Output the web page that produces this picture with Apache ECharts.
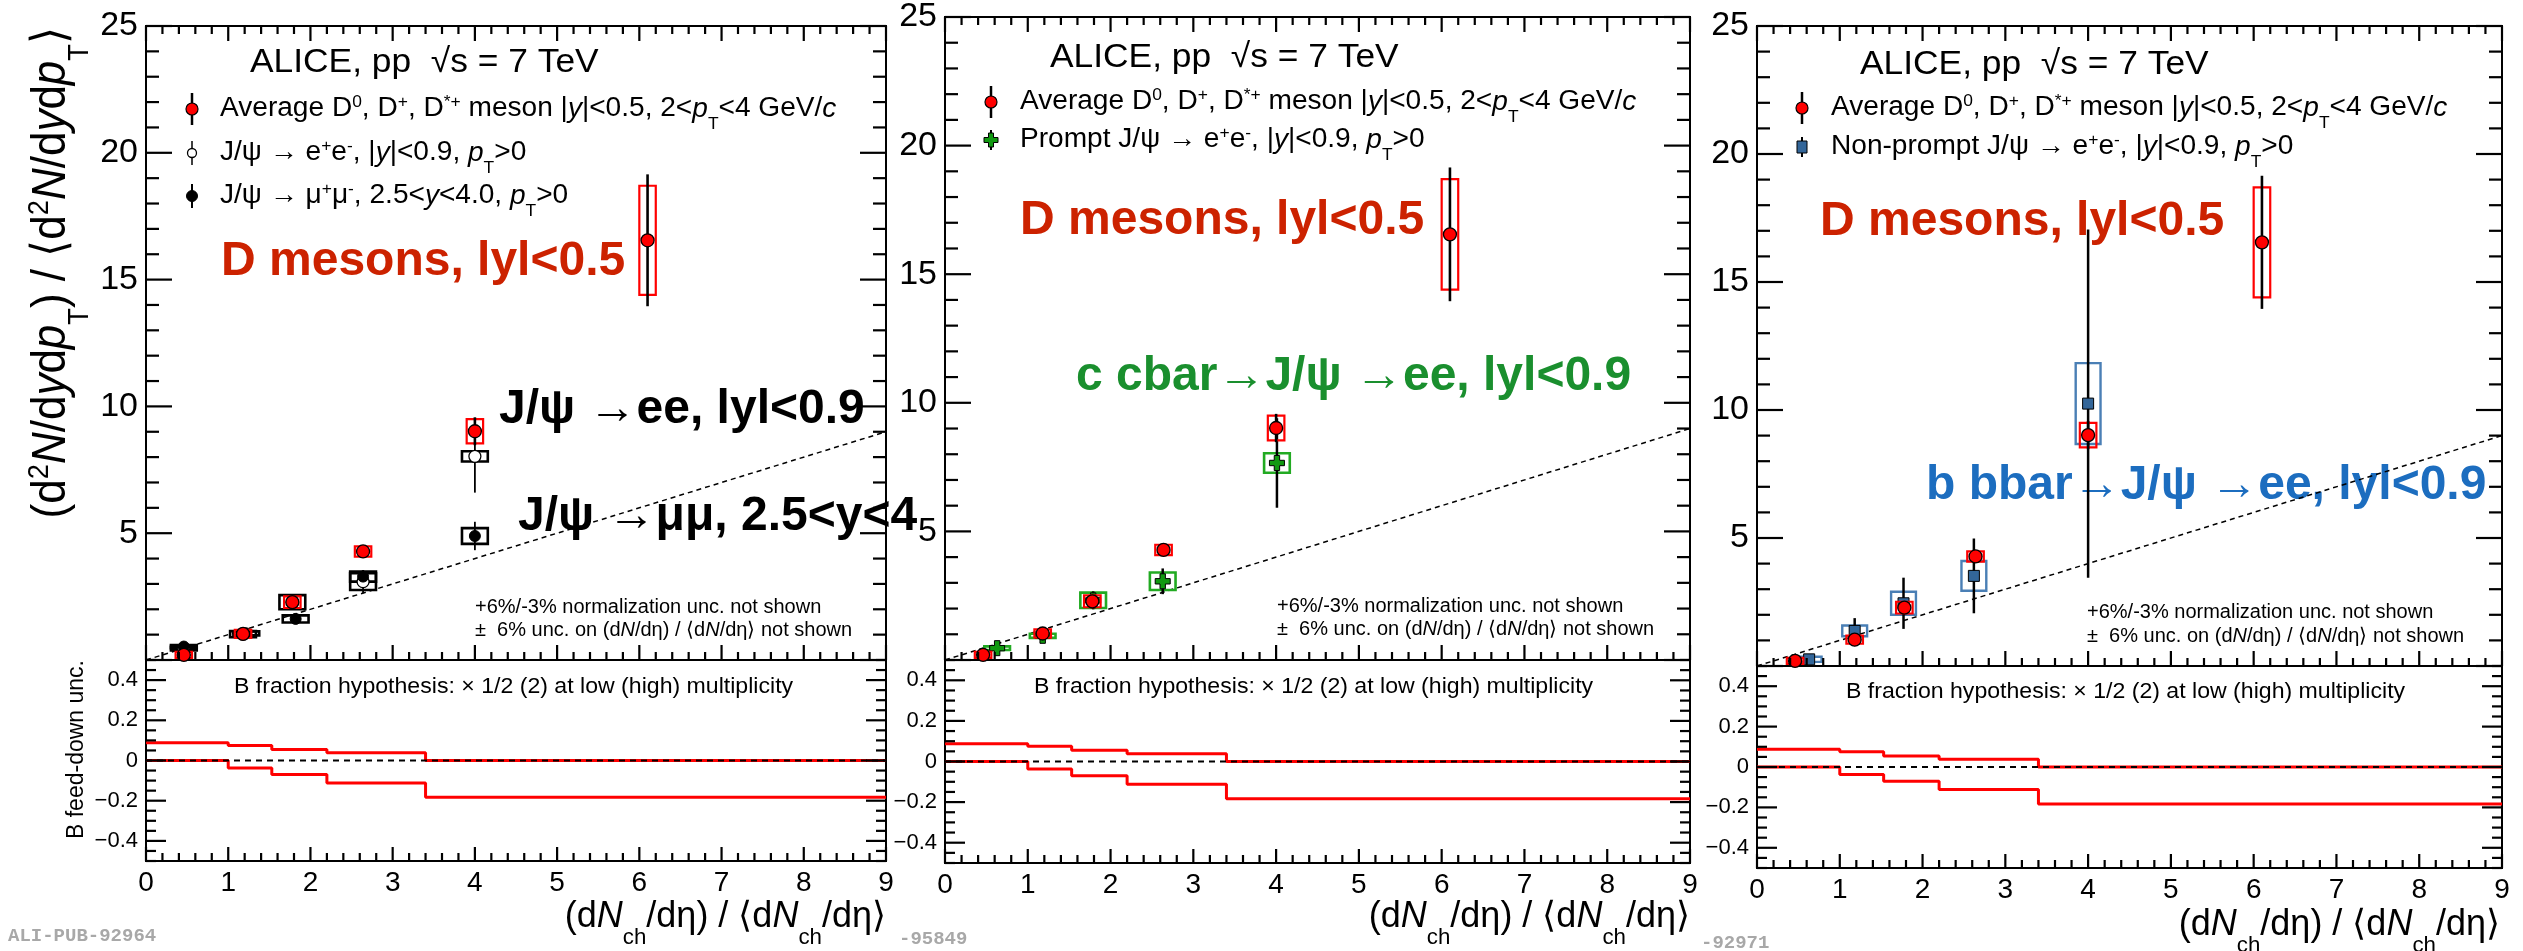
<!DOCTYPE html>
<html><head><meta charset="utf-8">
<script src="https://cdn.jsdelivr.net/npm/echarts@6/dist/echarts.min.js"></script>
<style>html,body{margin:0;padding:0;background:#fff}#c{width:2523px;height:951px}</style>
</head><body><div id="c"></div>
<script>
// ---------------- DATA ----------------
// Average D0, D+, D*+ (|y|<0.5, 2<pT<4 GeV/c)
const xD = [0.46, 1.18, 1.78, 2.64, 4.0, 6.1];
const yD = [0.2, 1.03, 2.28, 4.28, 9.02, 16.55];
const eD = [0.08, 0.1, 0.15, 0.12, 0.55, 2.6];
const sD = [0.12, 0.16, 0.23, 0.2, 0.48, 2.15];
// J/psi -> e+e- inclusive, |y|<0.9 (open circles)
const xEE = [0.46, 1.18, 1.78, 2.64, 4.0];
const yEE = [0.45, 1.02, 2.28, 3.09, 8.03];
const eEE = [0.06, 0.1, 0.2, 0.46, 1.43];
const sEE = [0.07, 0.12, 0.28, 0.33, 0.2];
// J/psi -> mu+mu-, 2.5<y<4 (filled circles)
const xMM = [0.46, 1.22, 1.82, 2.64, 4.0];
const yMM = [0.53, 1.05, 1.62, 3.29, 4.89];
const eMM = [0.05, 0.08, 0.12, 0.2, 0.56];
const sMM = [0.06, 0.08, 0.14, 0.2, 0.31];
// prompt J/psi -> e+e-
const xPr = [0.63, 1.18, 1.79, 2.63, 4.01];
const yPr = [0.46, 0.94, 2.32, 3.06, 7.66];
const ePr = [0.1, 0.25, 0.35, 0.5, 1.74];
const sPr = [0.07, 0.08, 0.3, 0.34, 0.38];
// non-prompt J/psi -> e+e-
const xNp = [0.63, 1.18, 1.77, 2.62, 4.0];
const yNp = [0.26, 1.37, 2.45, 3.52, 10.25];
const eNp = [0.1, 0.5, 1.0, 1.46, 6.8];
const sNp = [0.1, 0.21, 0.45, 0.58, 1.58];
// reference lines
const diag = [[0, 0], [9, 9]];
const zeroLine = [[0, 0], [9, 0]];
// B feed-down uncertainty (bin edges and values)
const bEdges = [0, 1, 1.53, 2.2, 3.4, 9];
const bUp = [0.088, 0.075, 0.055, 0.038, 0];
const bDown = [0, -0.037, -0.07, -0.112, -0.183];
// tick values / labels
const xTicks = [0, 1, 2, 3, 4, 5, 6, 7, 8, 9];
const yTicks = [0, 5, 10, 15, 20, 25];
const ratioTicks = [-0.4, -0.2, 0, 0.2, 0.4];
const range = (a, b, s) => { const r = []; for (let v = a; v <= b + 1e-9; v += s) r.push(Math.round(v * 1000) / 1000); return r; };
const xMinor = range(0, 9, 0.2);
const yMinor = range(0, 25, 1);
const rMinor = range(-0.5, 0.5, 0.05);

// ---------------- HELPERS ----------------
const F = '"Liberation Sans", Arial, Helvetica, sans-serif';
function tex(s) {
  let out = '', buf = '', i = 0;
  const flush = () => { if (buf) { out += '{n|' + buf + '}'; buf = ''; } };
  while (i < s.length) {
    if ((s[i] === '^' || s[i] === '_') && s[i + 1] === '{') {
      flush(); const j = s.indexOf('}', i);
      out += '{' + (s[i] === '^' ? 'sup' : 'sub') + '|' + s.slice(i + 2, j) + '}'; i = j + 1;
    } else if (s[i] === '#' && s[i + 1] === 'i' && s[i + 2] === '{') {
      flush(); const j = s.indexOf('}', i);
      out += '{it|' + s.slice(i + 3, j) + '}'; i = j + 1;
    } else { buf += s[i]; i++; }
  }
  flush();
  return out;
}
function rich(fs, color, weight) {
  const L = 1.2 * fs;
  const base = {fontSize: fs, fontFamily: F, fill: color, color: color, fontWeight: weight || 'normal', lineHeight: L};
  return {
    n: base,
    it: Object.assign({}, base, {fontStyle: 'italic'}),
    sup: Object.assign({}, base, {fontSize: 0.62 * fs, lineHeight: L, padding: [0, 0, 0.5 * fs, 0]}),
    sub: Object.assign({}, base, {fontSize: 0.62 * fs, lineHeight: L, padding: [1.15 * fs, 0, 0, 0]})
  };
}
function T(x, y, s, fs, o) {
  o = o || {};
  return {type: 'text', x: x, y: y, rotation: o.rot || 0, scaleX: o.sx || 1, scaleY: o.sy || 1, z: 1, silent: true,
    style: {text: tex(s), rich: rich(fs, o.color || '#000', o.weight), align: o.align || 'left',
      verticalAlign: 'middle', fill: o.color || '#000', fontSize: fs, fontFamily: F, fontWeight: o.weight || 'normal'}};
}
function mk(kind, x, y) {
  const ln = (h, w) => ({type: 'line', z: 1, silent: true, shape: {x1: x, y1: y - h, x2: x, y2: y + h}, style: {stroke: '#000', lineWidth: w}});
  if (kind === 'red') return [ln(16, 2.5), {type: 'circle', z: 1, shape: {cx: x, cy: y, r: 6}, style: {fill: '#ff0000', stroke: '#000', lineWidth: 1.2}}];
  if (kind === 'open') return [ln(12, 1.5), {type: 'circle', z: 1, shape: {cx: x, cy: y, r: 4.5}, style: {fill: '#fff', stroke: '#000', lineWidth: 1.3}}];
  if (kind === 'black') return [ln(12, 2), {type: 'circle', z: 1, shape: {cx: x, cy: y, r: 5.5}, style: {fill: '#000', stroke: '#000', lineWidth: 1}}];
  if (kind === 'green') return [ln(10, 2), {type: 'polygon', z: 1, shape: {points: [[x-2.5,y-7],[x+2.5,y-7],[x+2.5,y-2.5],[x+7,y-2.5],[x+7,y+2.5],[x+2.5,y+2.5],[x+2.5,y+7],[x-2.5,y+7],[x-2.5,y+2.5],[x-7,y+2.5],[x-7,y-2.5],[x-2.5,y-2.5]]}, style: {fill: '#119911', stroke: '#000', lineWidth: 1}}];
  if (kind === 'blue') return [ln(10, 2), {type: 'rect', z: 1, shape: {x: x - 5, y: y - 6, width: 10, height: 12}, style: {fill: '#336699', stroke: '#000', lineWidth: 1}}];
  return [];
}

const P = [
  {main: {left: 146, top: 26, width: 740, height: 634}, ratio: {left: 146, top: 660, width: 740, height: 201}},
  {main: {left: 945, top: 17, width: 745, height: 643}, ratio: {left: 945, top: 660, width: 745, height: 203}},
  {main: {left: 1757, top: 26, width: 745, height: 640}, ratio: {left: 1757, top: 666, width: 745, height: 202}}
];

const grid = [], xAxis = [], yAxis = [], series = [];
const noLine = {show: false, onZero: false};
P.forEach((p, k) => {
  grid.push(Object.assign({}, p.main, {show: true, borderColor: '#000', borderWidth: 2, backgroundColor: 'transparent', containLabel: false, outerBoundsMode: 'none'}));
  grid.push(Object.assign({}, p.ratio, {show: true, borderColor: '#000', borderWidth: 2, backgroundColor: 'transparent', containLabel: false, outerBoundsMode: 'none'}));
  const xb = {type: 'value', min: 0, max: 9, interval: 1, axisLine: noLine, axisTick: {show: false}, splitLine: {show: false}};
  xAxis.push(Object.assign({}, xb, {gridIndex: 2 * k, position: 'bottom', axisLabel: {show: false}}));
  xAxis.push(Object.assign({}, xb, {gridIndex: 2 * k + 1, position: 'bottom',
    axisLabel: {show: true, fontSize: 28, fontFamily: F, color: '#000', margin: 8, customValues: xTicks, formatter: v => String(v)}}));
  yAxis.push({type: 'value', min: 0, max: 25, interval: 5, axisLine: noLine, axisTick: {show: false}, splitLine: {show: false}, gridIndex: 2 * k, position: 'left',
    axisLabel: {show: true, fontSize: 34, fontFamily: F, color: '#000', margin: 8, customValues: yTicks, formatter: v => v === 0 ? '' : String(v)}});
  const fmt = v => (v < -1e-9 ? '\u2212' : '') + String(Math.round(Math.abs(v) * 10) / 10);
  yAxis.push({type: 'value', min: -0.5, max: 0.5, axisLine: noLine, axisTick: {show: false}, splitLine: {show: false}, gridIndex: 2 * k + 1, position: 'left',
    axisLabel: {show: true, customValues: ratioTicks, fontSize: 22, fontFamily: F, color: '#000', margin: 8, formatter: fmt}});
});

function errS(k, xs, ys, es, color, w, z) {
  return {type: 'custom', xAxisIndex: 2 * k, yAxisIndex: 2 * k, z: z, silent: true,
    data: xs.map((x, i) => [x, ys[i], es[i]]),
    renderItem: (params, api) => {
      const a = api.coord([api.value(0), api.value(1) - api.value(2)]);
      const b = api.coord([api.value(0), api.value(1) + api.value(2)]);
      return {type: 'line', shape: {x1: a[0], y1: a[1], x2: b[0], y2: b[1]}, style: {stroke: color, lineWidth: w}};
    }};
}
function boxS(k, xs, ys, ss, hw, color, w, z) {
  return {type: 'custom', xAxisIndex: 2 * k, yAxisIndex: 2 * k, z: z, silent: true,
    data: xs.map((x, i) => [x, ys[i], ss[i]]),
    renderItem: (params, api) => {
      const a = api.coord([api.value(0) - hw, api.value(1) + api.value(2)]);
      const b = api.coord([api.value(0) + hw, api.value(1) - api.value(2)]);
      return {type: 'rect', shape: {x: a[0], y: a[1], width: b[0] - a[0], height: b[1] - a[1]}, style: {fill: 'none', stroke: color, lineWidth: w}};
    }};
}
function ptS(k, xs, ys, symbol, size, fill, border, bw, z) {
  return {type: 'scatter', xAxisIndex: 2 * k, yAxisIndex: 2 * k, z: z, silent: true, symbol: symbol, symbolSize: size,
    itemStyle: {color: fill, borderColor: border, borderWidth: bw, opacity: 1}, emphasis: {disabled: true},
    data: xs.map((x, i) => [x, ys[i]])};
}
const crossPath = 'path://M3.2,0H6.8V3.2H10V6.8H6.8V10H3.2V6.8H0V3.2H3.2Z';

P.forEach((p, k) => {
  series.push({type: 'line', xAxisIndex: 2 * k, yAxisIndex: 2 * k, data: diag, symbol: 'none', silent: true, z: 2,
    lineStyle: {color: '#000', width: 1.5, type: [5, 4]}});
  if (k === 0) {
    series.push(boxS(k, xEE, yEE, sEE, 0.157, '#000', 2.6, 3));
    series.push(boxS(k, xMM, yMM, sMM, 0.157, '#000', 2.6, 3));
    series.push(errS(k, xEE, yEE, eEE, '#000', 1.8, 4));
    series.push(errS(k, xMM, yMM, eMM, '#000', 1.8, 4));
    series.push(ptS(k, xEE, yEE, 'circle', 12, '#fff', '#000', 1.3, 5));
    series.push(ptS(k, xMM, yMM, 'circle', 11, '#000', '#000', 1, 5));
  } else if (k === 1) {
    series.push(boxS(k, xPr, yPr, sPr, 0.155, '#22aa22', 2.6, 3));
    series.push(errS(k, xPr, yPr, ePr, '#000', 2.5, 4));
    series.push(ptS(k, xPr, yPr, crossPath, 15, '#119911', '#000', 1, 5));
  } else {
    series.push(boxS(k, xNp, yNp, sNp, 0.15, '#4a7fb5', 2.4, 3));
    series.push(errS(k, xNp, yNp, eNp, '#000', 2.5, 4));
    series.push(ptS(k, xNp, yNp, 'rect', 11, '#336699', '#000', 1, 5));
  }
  series.push(boxS(k, xD, yD, sD, 0.1, '#ff0000', 2.2, 6));
  series.push(errS(k, xD, yD, eD, '#000', 2.6, 7));
  series.push(ptS(k, xD, yD, 'circle', 13, '#ff0000', '#000', 1.3, 8));
  // ratio panel
  const stepData = vals => bEdges.map((e, i) => [e, vals[Math.min(i, vals.length - 1)]]);
  series.push({type: 'line', xAxisIndex: 2 * k + 1, yAxisIndex: 2 * k + 1, step: 'end', data: stepData(bUp), symbol: 'none', silent: true, z: 3,
    lineStyle: {color: '#ff0000', width: 3}});
  series.push({type: 'line', xAxisIndex: 2 * k + 1, yAxisIndex: 2 * k + 1, step: 'end', data: stepData(bDown), symbol: 'none', silent: true, z: 3,
    lineStyle: {color: '#ff0000', width: 3}});
  series.push({type: 'line', xAxisIndex: 2 * k + 1, yAxisIndex: 2 * k + 1, data: zeroLine, symbol: 'none', silent: true, z: 4,
    lineStyle: {color: '#000', width: 2, type: [6, 5]}});
});

// ---------------- TEXT / LEGENDS ----------------
const legD = 'Average D^{0}, D^{+}, D^{*+} meson |#i{y}|<0.5, 2<#i{p}_{T}<4 GeV/#i{c}';
const legEE = 'J/ψ → e^{+}e^{-}, |#i{y}|<0.9, #i{p}_{T}>0';
const legMM = 'J/ψ → μ^{+}μ^{-}, 2.5<#i{y}<4.0, #i{p}_{T}>0';
const legPr = 'Prompt J/ψ → e^{+}e^{-}, |#i{y}|<0.9, #i{p}_{T}>0';
const legNp = 'Non-prompt J/ψ → e^{+}e^{-}, |#i{y}|<0.9, #i{p}_{T}>0';
const alice = 'ALICE, pp  √s = 7 TeV';
const note1 = '+6%/-3% normalization unc. not shown';
const note2 = '±  6% unc. on (d#i{N}/dη) / ⟨d#i{N}/dη⟩ not shown';
const bfrac = 'B fraction hypothesis: × 1/2 (2) at low (high) multiplicity';
const xTitle = '(d#i{N}_{ch}/dη) / ⟨d#i{N}_{ch}/dη⟩';
const yTitle = '(d^{2}#i{N}/d#i{y}d#i{p}_{T}) / ⟨d^{2}#i{N}/d#i{y}d#i{p}_{T}⟩';
const RED = '#cc2200', GREEN = '#1a8f2e', BLUE = '#1c6dbf';

const G = [];
const L = [
  {alice: [250, 63], mx: 192, tx: 220, rows: [[109, 'red', legD], [153, 'open', legEE], [196, 'black', legMM]], notes: [475, 607, 630],
   dm: [221, 262], ann: [[499, 410, 'J/ψ →ee, lyl<0.9', '#000'], [518, 517, 'J/ψ →μμ, 2.5<y<4', '#000']], bf: [234, 687], xt: [886, 917], pub: [8, 936, 'ALI-PUB-92964']},
  {alice: [1050, 58], mx: 991, tx: 1020, rows: [[102, 'red', legD], [140, 'green', legPr]], notes: [1277, 606, 629],
   dm: [1020, 221], ann: [[1076, 377, 'c cbar→J/ψ →ee, lyl<0.9', GREEN]], bf: [1034, 687], xt: [1690, 917], pub: [899, 939, '-95849']},
  {alice: [1860, 65], mx: 1802, tx: 1831, rows: [[108, 'red', legD], [147, 'blue', legNp]], notes: [2087, 612, 636],
   dm: [1820, 222], ann: [[1926, 486, 'b bbar→J/ψ →ee, lyl<0.9', BLUE]], bf: [1846, 692], xt: [2500, 925], pub: [1701, 943, '-92971']}
];
L.forEach(l => {
  G.push(T(l.alice[0], l.alice[1], alice, 34, {sx: 1.04}));
  l.rows.forEach(r => { G.push(...mk(r[1], l.mx, r[0])); G.push(T(l.tx, r[0], r[2], 27, {sx: 1.04})); });
  G.push(T(l.notes[0], l.notes[1], note1, 20));
  G.push(T(l.notes[0], l.notes[2], note2, 20));
  G.push(T(l.dm[0], l.dm[1], 'D mesons, lyl<0.5', 48, {color: RED, weight: 'bold'}));
  l.ann.forEach(a => G.push(T(a[0], a[1], a[2], 48, {color: a[3], weight: 'bold'})));
  G.push(T(l.bf[0], l.bf[1], bfrac, 22, {sx: 1.05}));
  G.push(T(l.xt[0], l.xt[1], xTitle, 36, {align: 'right'}));
  G.push({type: 'text', x: l.pub[0], y: l.pub[1], z: 1, silent: true,
    style: {text: l.pub[2], fill: '#a8a8a8', fontSize: 19, fontWeight: 'bold', fontFamily: '"Liberation Mono", "DejaVu Sans Mono", monospace', align: 'left', verticalAlign: 'middle'}});
});
G.push(T(52, 27, yTitle, 44, {align: 'right', rot: Math.PI / 2, sy: 1.1}));
G.push(T(77, 660, 'B feed-down unc.', 23, {align: 'right', rot: Math.PI / 2}));

const chart = echarts.init(document.getElementById('c'), null, {renderer: 'canvas'});
chart.setOption({animation: false, backgroundColor: '#fff', grid: grid, xAxis: xAxis, yAxis: yAxis, series: series, graphic: {elements: G}});

// ---------------- TICKS (positions from the axes' scales via convertToPixel) ----------------
const tickEls = [];
const tl = (x1, y1, x2, y2) => tickEls.push({type: 'line', z: 60, silent: true, shape: {x1, y1, x2, y2}, style: {stroke: '#000', lineWidth: 2.2}});
function addTicks(gi, yLo, yHi, yMaj, yMin, lens, top) {
  const toPx = (x, y) => chart.convertToPixel({xAxisIndex: gi, yAxisIndex: gi}, [x, y]);
  xMinor.forEach(v => {
    const len = xTicks.indexOf(v) >= 0 ? lens[0] : lens[1];
    const b = toPx(v, yLo); tl(b[0], b[1], b[0], b[1] - len);
    if (top) { const t = toPx(v, yHi); tl(t[0], t[1], t[0], t[1] + len); }
  });
  yMin.forEach(v => {
    const len = yMaj.some(m => Math.abs(m - v) < 1e-6) ? lens[2] : lens[3];
    const a = toPx(0, v); tl(a[0], a[1], a[0] + len, a[1]);
    const c = toPx(9, v); tl(c[0], c[1], c[0] - len, c[1]);
  });
}
P.forEach((p, k) => {
  addTicks(2 * k, 0, 25, yTicks, yMinor, [15, 8, 26, 13], true);
  addTicks(2 * k + 1, -0.5, 0.5, ratioTicks, rMinor, [14, 8, 20, 10], false);
});
chart.setOption({graphic: {elements: G.concat(tickEls)}});
</script></body></html>
